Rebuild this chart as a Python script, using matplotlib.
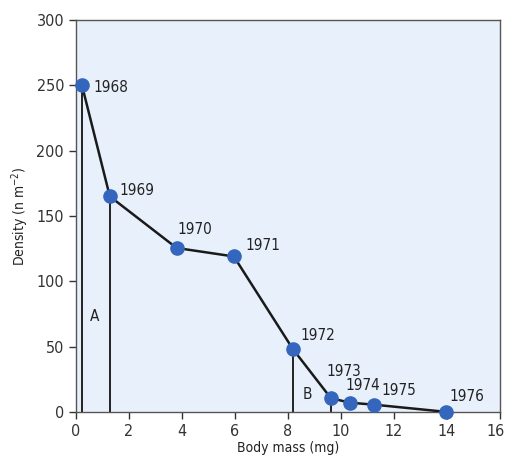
import matplotlib
matplotlib.use("Agg")
import matplotlib.pyplot as plt
import matplotlib.transforms as mtransforms

plt.rcParams['font.family'] = ['DejaVu Sans']
plt.rcParams['font.stretch'] = 'condensed'

years = ['1968', '1969', '1970', '1971', '1972', '1973', '1974', '1975', '1976']
mass = [0.23, 1.28, 3.8, 5.96, 8.19, 9.62, 10.34, 11.25, 13.96]
density = [250, 165, 125.5, 119, 48, 10.5, 7, 5.5, 0]
label_offsets = [(11, -2), (10, 6), (1, 18), (12, 11), (7, 14), (-4, 27), (-4, 17), (7, 14), (4, 15)]
drop_idx = [0, 1, 4, 5]
region_labels = ['A', 'B']
region_pos = [(0.72, 73), (8.75, 13)]

fig = plt.figure(figsize=(5.06, 4.68), dpi=100)
ax = fig.add_axes([0.150, 0.120, 0.838, 0.837])
ax.set_facecolor('#e8f1fb')

for i in drop_idx:
    ax.plot([mass[i], mass[i]], [0, density[i]], color='#222222', lw=1.4, zorder=2)

ax.plot(mass, density, color='#1a1a1a', lw=1.8, zorder=3)
ax.plot(mass, density, 'o', color='#3566bd', ms=9.5, zorder=4, clip_on=False)

for x, y, t, off in zip(mass, density, years, label_offsets):
    ax.annotate(t, (x, y), xytext=off, textcoords='offset pixels',
                ha='left', va='center', fontsize=11, color='#222222')

for t, (x, y) in zip(region_labels, region_pos):
    ax.text(x, y, t, ha='center', va='center', fontsize=11, color='#222222')

ax.set_xlim(0, 16)
ax.set_ylim(0, 300)
ax.set_xticks(range(0, 17, 2))
ax.set_yticks(range(0, 301, 50))
ax.tick_params(direction='out', length=5, width=1, labelsize=11.5, colors='#333333')
for s in ax.spines.values():
    s.set_color('#555555')
    s.set_linewidth(1)
ax.set_xlabel('Body mass (mg)', fontsize=10, color='#222222', labelpad=2)
ax.set_ylabel('Density (n m$^{-2}$)', fontsize=10, color='#222222', labelpad=4)

last = ax.get_xticklabels()[-1]
last.set_transform(last.get_transform() + mtransforms.ScaledTranslation(-4 / 100, 0, fig.dpi_scale_trans))

fig.savefig('out.png', dpi=100)
